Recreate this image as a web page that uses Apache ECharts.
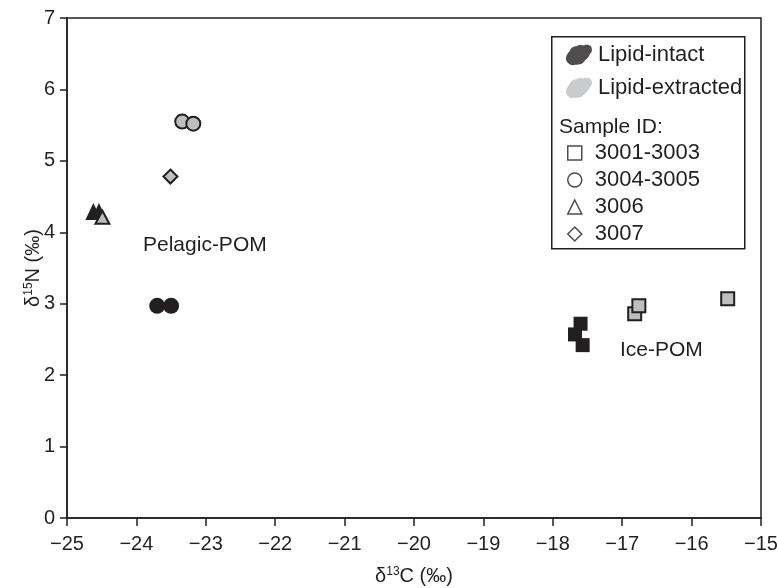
<!DOCTYPE html>
<html>
<head>
<meta charset="utf-8">
<script src="https://cdn.jsdelivr.net/npm/echarts@6/dist/echarts.min.js"></script>
<style>html,body{margin:0;padding:0;background:#fff;}#c{width:777px;height:588px;}</style>
</head>
<body>
<div id="c"></div>
<script>
// Data (δ13C, δ15N)
const intactSquares = [[-17.60, 2.72], [-17.68, 2.57], [-17.57, 2.42]];
const extractedSquares = [[-16.82, 2.86], [-16.76, 2.97], [-15.48, 3.07]];
const intactCircles = [[-23.70, 2.97], [-23.50, 2.97]];
const extractedCircles = [[-23.34, 5.55], [-23.18, 5.52]];
const intactTriangles = [[-24.62, 4.29], [-24.54, 4.29]];
const extractedTriangles = [[-24.49, 4.21]];
const extractedDiamonds = [[-23.51, 4.78]];
const xTicks = [-25, -24, -23, -22, -21, -20, -19, -18, -17, -16, -15];
const yTicks = [0, 1, 2, 3, 4, 5, 6, 7];
const lipidNames = ['Lipid-intact', 'Lipid-extracted'];
const sampleNames = ['3001-3003', '3004-3005', '3006', '3007'];

const BLACK = '#231f20';
const GRAY = '#bcbec0';
const FONT = 'Liberation Sans';
const blob = 'path://M2,17 C0,13 3,9 5,7 C6,4 9,3 11,3 C13,1 16,2 18,2 C21,1 25,2 25,5 C26,8 24,9 23,11 C22,14 19,15 18,17 C16,20 12,20 10,20 C7,21 4,20 2,17 Z';

function ser(name, data, symbol, size, fill) {
  return {
    type: 'scatter', name: name, data: data, symbol: symbol, symbolSize: size,
    itemStyle: { color: fill, borderColor: BLACK, borderWidth: fill === BLACK ? 0 : 2, opacity: 1 },
    emphasis: { disabled: true }, silent: true, z: 3
  };
}
const nameRich = {
  d: { fontSize: 20, color: BLACK, fontFamily: FONT },
  s: { fontSize: 12, color: BLACK, verticalAlign: 'top', padding: [0, 0, 7, 0], fontFamily: FONT }
};

const chart = echarts.init(document.getElementById('c'), null, { renderer: 'canvas' });
const option = {
  animation: false,
  textStyle: { fontFamily: FONT },
  grid: { left: 67, right: 16, top: 18, bottom: 70, containLabel: false, outerBoundsMode: 'none', show: true, borderColor: BLACK, borderWidth: 1.5, backgroundColor: 'transparent' },
  xAxis: {
    type: 'value', min: xTicks[0], max: xTicks[xTicks.length - 1], interval: 1,
    name: '{d|δ}{s|13}{d|C (‰)}', nameLocation: 'middle', nameGap: 48, nameMoveOverlap: false,
    nameTextStyle: { rich: nameRich },
    axisLine: { lineStyle: { color: BLACK, width: 1.5 } },
    axisTick: { show: true, length: 8, inside: false, lineStyle: { color: BLACK, width: 1.5 } },
    axisLabel: { color: BLACK, fontSize: 20, margin: 16, fontFamily: FONT, formatter: v => (v < 0 ? '\u2212' + Math.abs(v) : String(v)) },
    splitLine: { show: false }
  },
  yAxis: {
    type: 'value', min: yTicks[0], max: yTicks[yTicks.length - 1], interval: 1,
    name: '{d|δ}{s|15}{d|N (‰)}', nameLocation: 'middle', nameGap: 24, nameRotate: 90, nameMoveOverlap: false,
    nameTextStyle: { rich: nameRich },
    axisLine: { lineStyle: { color: BLACK, width: 1.5 } },
    axisTick: { show: true, length: 7, inside: false, lineStyle: { color: BLACK, width: 1.5 } },
    axisLabel: { color: BLACK, fontSize: 20, margin: 12, fontFamily: FONT },
    splitLine: { show: false }
  },
  legend: [
    {
      orient: 'vertical', left: 561, top: 39, itemWidth: 26, itemHeight: 21, itemGap: 11,
      selectedMode: false, textStyle: { fontSize: 22, color: BLACK, fontFamily: FONT, padding: [0, 0, 0, 1] },
      data: [
        { name: lipidNames[0], icon: blob, itemStyle: { color: BLACK, borderWidth: 0 } },
        { name: lipidNames[1], icon: blob, itemStyle: { color: GRAY, borderWidth: 0 } }
      ]
    },
    {
      orient: 'vertical', left: 562, top: 137, itemWidth: 14, itemHeight: 14, itemGap: 5,
      selectedMode: false, textStyle: { fontSize: 22, color: BLACK, fontFamily: FONT, padding: [3, 0, 0, 8] },
      data: [
        { name: sampleNames[0], icon: 'rect', itemStyle: { color: '#fff', borderColor: BLACK, borderWidth: 1.5 } },
        { name: sampleNames[1], icon: 'circle', itemStyle: { color: '#fff', borderColor: BLACK, borderWidth: 1.5 } },
        { name: sampleNames[2], icon: 'triangle', itemStyle: { color: '#fff', borderColor: BLACK, borderWidth: 1.5 } },
        { name: sampleNames[3], icon: 'diamond', itemStyle: { color: '#fff', borderColor: BLACK, borderWidth: 1.5 } }
      ]
    }
  ],
  graphic: [
    { type: 'rect', left: 551, top: 36, shape: { width: 193, height: 212 }, style: { fill: '#fff', stroke: BLACK, lineWidth: 1.5 }, z: 1, silent: true },
    { type: 'text', x: 559, y: 127, style: { text: 'Sample ID:', font: '21px "Liberation Sans"', fill: BLACK, verticalAlign: 'middle' }, z: 10, silent: true },
    { type: 'text', x: 143, y: 245, style: { text: 'Pelagic-POM', font: '21px "Liberation Sans"', fill: BLACK, verticalAlign: 'middle' }, z: 10, silent: true },
    { type: 'text', x: 620, y: 350, style: { text: 'Ice-POM', font: '21px "Liberation Sans"', fill: BLACK, verticalAlign: 'middle' }, z: 10, silent: true }
  ],
  series: [
    ser('intact-sq', intactSquares, 'rect', 14, BLACK),
    ser('extracted-sq', extractedSquares, 'rect', 13, GRAY),
    ser('intact-ci', intactCircles, 'circle', 16, BLACK),
    ser('extracted-ci', extractedCircles, 'circle', 14, GRAY),
    ser('intact-tr', intactTriangles, 'triangle', [16, 17], BLACK),
    ser('extracted-tr', extractedTriangles, 'triangle', [14, 13], GRAY),
    ser('extracted-di', extractedDiamonds, 'diamond', [14, 14], GRAY),
    { type: 'scatter', name: lipidNames[0], data: [], symbol: blob, itemStyle: { color: BLACK } },
    { type: 'scatter', name: lipidNames[1], data: [], symbol: blob, itemStyle: { color: GRAY } },
    { type: 'scatter', name: sampleNames[0], data: [], symbol: 'rect', itemStyle: { color: '#fff', borderColor: BLACK } },
    { type: 'scatter', name: sampleNames[1], data: [], symbol: 'circle', itemStyle: { color: '#fff', borderColor: BLACK } },
    { type: 'scatter', name: sampleNames[2], data: [], symbol: 'triangle', itemStyle: { color: '#fff', borderColor: BLACK } },
    { type: 'scatter', name: sampleNames[3], data: [], symbol: 'diamond', itemStyle: { color: '#fff', borderColor: BLACK } }
  ]
};
chart.setOption(option);
</script>
</body>
</html>
